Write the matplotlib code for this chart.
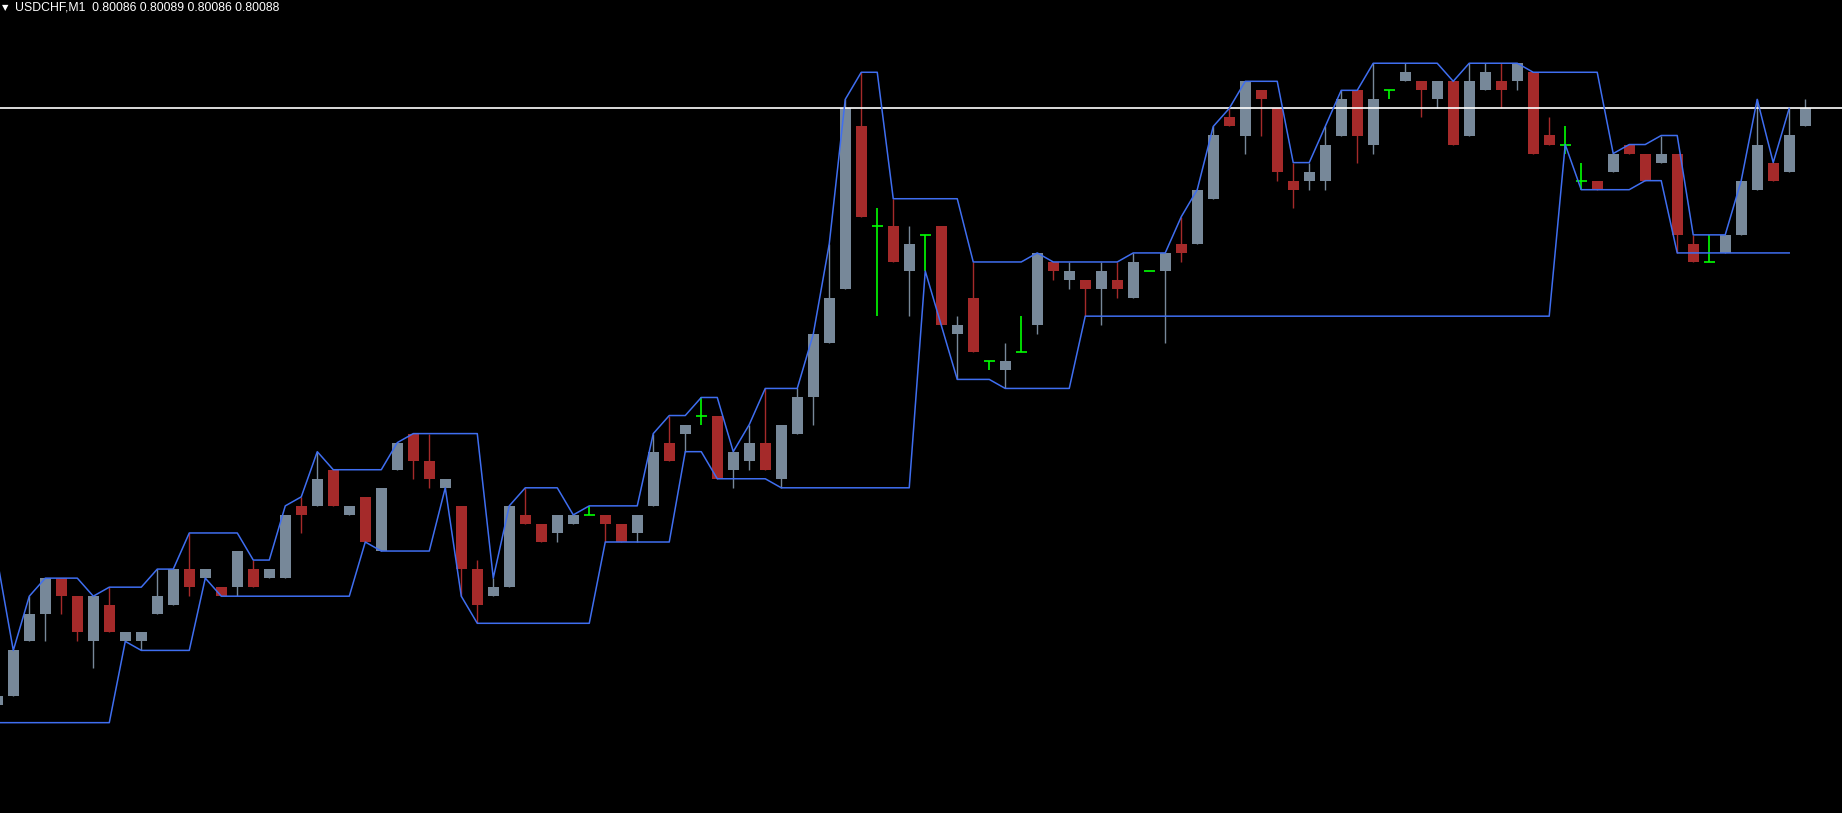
import numpy as np
import matplotlib.pyplot as plt

# USDCHF M1 candles, values in points (1 point = 0.00001) above 0.80000
symbol = 'USDCHF,M1'
last_bar = ['0.80086', '0.80089', '0.80086', '0.80088']
base = 0.80000
point = 0.00001
bid = 88

opens = [22, 23, 29, 32, 36, 34, 29, 33, 29, 29,
         32, 33, 37, 36, 35, 35, 37, 36, 36, 44,
         44, 48, 43, 45, 39, 48, 52, 49, 46, 44,
         37, 34, 35, 43, 42, 41, 42, 43, 43, 42,
         41, 44, 51, 52, 54, 54, 48, 49, 51, 47,
         52, 56, 62, 68, 86, 75, 75, 70, 74, 75,
         63, 67, 60, 59, 61, 64, 71, 69, 69, 68,
         69, 67, 70, 70, 73, 73, 78, 87, 85, 90,
         88, 80, 80, 80, 85, 90, 84, 90, 91, 91,
         89, 91, 85, 90, 91, 91, 92, 85, 84, 80,
         80, 81, 84, 83, 82, 83, 73, 71, 72, 74,
         79, 82, 81, 86]
highs = [23, 28, 34, 36, 36, 34, 34, 35, 30, 30,
         37, 37, 41, 37, 35, 39, 38, 37, 43, 45,
         50, 48, 44, 45, 46, 51, 52, 52, 47, 44,
         38, 36, 44, 46, 42, 43, 43, 44, 43, 42,
         43, 52, 54, 53, 56, 54, 50, 53, 57, 53,
         57, 63, 73, 89, 92, 77, 78, 75, 74, 75,
         65, 71, 60, 62, 65, 72, 71, 71, 69, 71,
         71, 72, 70, 72, 76, 79, 86, 88, 91, 90,
         88, 82, 82, 86, 90, 90, 93, 90, 93, 91,
         91, 91, 93, 93, 93, 93, 92, 87, 86, 82,
         80, 83, 84, 83, 85, 83, 74, 74, 74, 80,
         89, 82, 88, 89]
lows = [22, 23, 29, 29, 32, 29, 26, 30, 29, 28,
        32, 33, 34, 36, 34, 34, 35, 36, 36, 41,
        44, 44, 43, 40, 39, 48, 47, 46, 46, 34,
        31, 34, 35, 42, 40, 40, 42, 43, 40, 40,
        40, 44, 49, 50, 53, 47, 46, 48, 48, 46,
        52, 53, 62, 68, 76, 65, 71, 65, 70, 64,
        58, 61, 59, 57, 61, 63, 69, 68, 65, 64,
        67, 67, 70, 62, 71, 73, 78, 86, 83, 85,
        80, 77, 79, 79, 85, 82, 83, 89, 91, 87,
        88, 84, 85, 90, 88, 90, 83, 84, 83, 79,
        79, 81, 83, 80, 82, 72, 71, 71, 72, 74,
        79, 80, 81, 86]
closes = [23, 28, 32, 36, 34, 30, 34, 30, 30, 30,
          34, 37, 35, 37, 34, 39, 35, 37, 43, 43,
          47, 44, 44, 40, 46, 51, 49, 47, 47, 37,
          33, 35, 44, 42, 40, 43, 43, 43, 42, 40,
          43, 50, 49, 53, 54, 47, 50, 51, 48, 53,
          56, 63, 67, 88, 76, 75, 71, 73, 74, 64,
          64, 61, 60, 60, 61, 72, 70, 70, 68, 70,
          68, 71, 70, 72, 72, 79, 85, 86, 91, 89,
          81, 79, 81, 84, 89, 85, 89, 90, 92, 90,
          91, 84, 91, 92, 90, 93, 83, 84, 84, 80,
          79, 83, 83, 80, 83, 74, 71, 71, 74, 80,
          84, 80, 85, 88]

# channel indicator (ends one bar before the last candle)
upper = [38, 28, 34, 36, 36, 36, 34, 35, 35, 35,
         37, 37, 41, 41, 41, 41, 38, 38, 44, 45,
         50, 48, 48, 48, 48, 51, 52, 52, 52, 52,
         52, 36, 44, 46, 46, 46, 43, 44, 44, 44,
         44, 52, 54, 54, 56, 56, 50, 53, 57, 57,
         57, 63, 73, 89, 92, 92, 78, 78, 78, 78,
         78, 71, 71, 71, 71, 72, 71, 71, 71, 71,
         71, 72, 72, 72, 76, 79, 86, 88, 91, 91,
         91, 82, 82, 86, 90, 90, 93, 93, 93, 93,
         93, 91, 93, 93, 93, 93, 92, 92, 92, 92,
         92, 83, 84, 84, 85, 85, 74, 74, 74, 80,
         89, 82, 88]
lower = [20, 20, 20, 20, 20, 20, 20, 20, 29, 28,
         28, 28, 28, 36, 34, 34, 34, 34, 34, 34,
         34, 34, 34, 40, 39, 39, 39, 39, 46, 34,
         31, 31, 31, 31, 31, 31, 31, 31, 40, 40,
         40, 40, 40, 50, 50, 47, 47, 47, 47, 46,
         46, 46, 46, 46, 46, 46, 46, 46, 70, 64,
         58, 58, 58, 57, 57, 57, 57, 57, 65, 65,
         65, 65, 65, 65, 65, 65, 65, 65, 65, 65,
         65, 65, 65, 65, 65, 65, 65, 65, 65, 65,
         65, 65, 65, 65, 65, 65, 65, 65, 84, 79,
         79, 79, 79, 80, 80, 72, 72, 72, 72, 72,
         72, 72, 72]

o = base + np.array(opens) * point
h = base + np.array(highs) * point
l = base + np.array(lows) * point
c = base + np.array(closes) * point
up = base + np.array(upper) * point
lo = base + np.array(lower) * point
x = np.arange(len(o))

bull_col = '#778899'
bear_col = '#a52a2a'
doji_col = '#00ff00'
line_col = '#3f6ef0'
w = 0.69

fig = plt.figure(figsize=(18.42, 8.13), dpi=100, facecolor='black')
ax = fig.add_axes([0, 0, 1, 1])
ax.set_facecolor('black')

bull = c > o
bear = c < o
doji = c == o

ax.vlines(x[bull], l[bull], h[bull], color=bull_col, lw=1)
ax.bar(x[bull], c[bull] - o[bull], bottom=o[bull], width=w, color=bull_col, lw=0)
ax.vlines(x[bear], l[bear], h[bear], color=bear_col, lw=1)
ax.bar(x[bear], o[bear] - c[bear], bottom=c[bear], width=w, color=bear_col, lw=0)
ax.vlines(x[doji], l[doji], h[doji], color=doji_col, lw=1.2)
ax.hlines(o[doji], x[doji] - w / 2, x[doji] + w / 2, color=doji_col, lw=1.2)

ax.axhline(base + bid * point, color='white', lw=1.2, zorder=3)
ax.plot(x[:len(up)], up, color=line_col, lw=1.1, zorder=4)
ax.plot(x[:len(lo)], lo, color=line_col, lw=1.1, zorder=4)

ax.set_xlim(0.169, 115.3)
ax.set_ylim(0.80010, 0.80100)
ax.axis('off')

fig.text(5 / 1842, 1 - 8 / 813, '\u25bc', color='white', fontsize=6,
         family='DejaVu Sans', ha='center', va='center')
fig.text(15 / 1842, 1 - 8 / 813, symbol + '  ' + ' '.join(last_bar),
         color='white', fontsize=8.8, family='Liberation Sans', ha='left', va='center')

fig.savefig('out.png', dpi=100, facecolor='black')
